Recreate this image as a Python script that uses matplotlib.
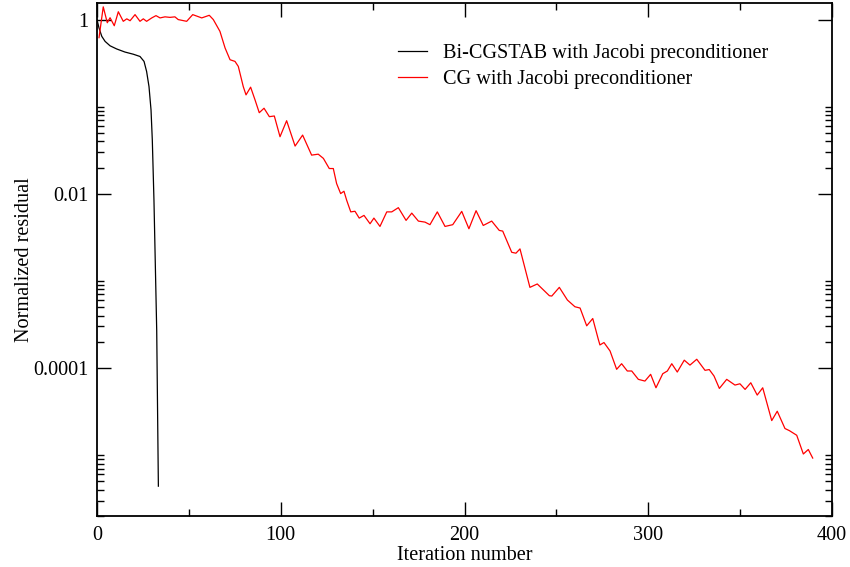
import numpy as np
import matplotlib
matplotlib.use('Agg')
import matplotlib.pyplot as plt
from matplotlib.ticker import LogLocator, MultipleLocator, NullFormatter

# Bi-CGSTAB residual history
bicg_iter = [0, 1.1, 2.6, 4.4, 7.1, 10.7, 15.2, 19.8, 23.4, 25.6, 27.0, 28.3,
             29.4, 30.1, 30.6, 31.0, 32.5, 33.4]
bicg_res = [1.0, 0.80, 0.642, 0.562, 0.50, 0.46, 0.424, 0.40, 0.377, 0.331,
            0.2535, 0.170, 0.0918, 0.0414, 0.0171, 0.0084, 0.000267, 4.4e-6]

# CG residual history
cg_iter = [1.1, 3.4, 5.6, 7.1, 9.4, 11.6, 14.3, 16.2, 18.0, 20.7, 23.4, 25.2,
           27.0, 29.8, 32.1, 34.3, 37.0, 39.7, 42.4, 44.2, 48.8, 52.1, 57.0,
           61.1, 63.3, 66.9, 69.7, 72.4, 75.1, 76.9, 79.6, 81.1, 83.6, 86.0,
           88.3, 90.9, 93.8, 96.5, 99.6, 103.2, 107.8, 111.9, 116.8, 120.4,
           123.2, 126.4, 128.6, 130.4, 132.6, 134.4, 135.9, 138.1, 140.4,
           142.7, 145.3, 148.6, 150.7, 154.0, 157.7, 160.4, 164.0, 168.2,
           171.3, 174.9, 178.5, 181.2, 185.2, 189.4, 193.6, 198.5, 202.4,
           206.3, 210.2, 214.8, 218.9, 220.8, 225.7, 228.0, 230.2, 235.6,
           239.6, 246.2, 247.5, 251.6, 256.0, 260.1, 262.9, 266.5, 269.8,
           272.8, 273.7, 275.9, 279.2, 282.8, 285.5, 288.6, 291.0, 294.6,
           298.2, 301.3, 304.2, 307.9, 310.4, 312.8, 315.8, 319.6, 322.7,
           326.4, 330.9, 333.2, 335.8, 338.7, 342.7, 347.2, 349.9, 352.7,
           355.8, 359.3, 362.3, 367.2, 370.2, 374.4, 376.8, 380.8, 384.4,
           387.1, 389.5]
cg_res = [0.62, 1.40, 0.92, 1.05, 0.85, 1.23, 0.955, 1.02, 0.97, 1.14, 0.955,
          1.02, 0.955, 1.045, 1.11, 1.045, 1.075, 1.06, 1.075, 1.0, 0.955,
          1.14, 1.045, 1.12, 1.0, 0.733, 0.472, 0.346, 0.331, 0.29, 0.170,
          0.1366, 0.1676, 0.1197, 0.0853, 0.096, 0.0768, 0.0782, 0.0452,
          0.069, 0.0353, 0.0472, 0.0278, 0.0285, 0.0255, 0.0195, 0.0195,
          0.0131, 0.01005, 0.0107, 0.0084, 0.0062, 0.0063, 0.00526, 0.00565,
          0.00453, 0.00526, 0.00422, 0.0062, 0.0062, 0.00693, 0.00495, 0.0060,
          0.00486, 0.00473, 0.00442, 0.0062, 0.00422, 0.00442, 0.00628,
          0.00397, 0.0064, 0.00433, 0.00486, 0.0038, 0.00373, 0.00213,
          0.00208, 0.00233, 0.000843, 0.000922, 0.000676, 0.00067, 0.000843,
          0.000603, 0.000505, 0.000488, 0.000305, 0.00037, 0.000214, 0.000184,
          0.000196, 0.000157, 9.66e-5, 0.000112, 9.24e-5, 9.24e-5, 7.41e-5,
          7.08e-5, 8.46e-5, 5.93e-5, 8.6e-5, 9.24e-5, 0.000112, 8.99e-5,
          0.000123, 0.000108, 0.000126, 9.4e-5, 9.6e-5, 8.09e-5, 5.83e-5,
          7.41e-5, 6.37e-5, 6.59e-5, 5.68e-5, 6.77e-5, 4.89e-5, 5.93e-5,
          2.49e-5, 3.19e-5, 2.02e-5, 1.91e-5, 1.69e-5, 1.03e-5, 1.16e-5,
          9.25e-6]

ytick_vals = [1e-4, 1e-2, 1]
ytick_labels = ['0.0001', '0.01', '1']

plt.rcParams['font.family'] = ['Liberation Serif', 'DejaVu Serif']
plt.rcParams['font.size'] = 14.6

fig = plt.figure(figsize=(8.5, 5.67), dpi=100)
ax = fig.add_axes([97/850, 51/567, 735/850, 513/567])

ax.plot(bicg_iter, bicg_res, color='black', lw=0.9,
        label='Bi-CGSTAB with Jacobi preconditioner')
ax.plot(cg_iter, cg_res, color='red', lw=0.9,
        label='CG with Jacobi preconditioner')

ax.set_yscale('log')
ax.set_xlim(0, 400)
ax.set_ylim(2e-6, 1.55)

ax.xaxis.set_major_locator(MultipleLocator(100))
ax.xaxis.set_minor_locator(MultipleLocator(50))
ax.set_yticks(ytick_vals)
ax.set_yticklabels(ytick_labels)
ax.yaxis.set_minor_locator(LogLocator(base=100, subs=np.arange(2, 11)))
ax.yaxis.set_minor_formatter(NullFormatter())

ax.tick_params(which='both', direction='in', top=True, right=True, width=1)
ax.tick_params(which='major', length=10)
ax.tick_params(axis='x', which='major', pad=7)
ax.tick_params(axis='y', which='major', pad=6)
ax.tick_params(which='minor', length=5)
for s in ax.spines.values():
    s.set_linewidth(1.3)

ax.set_xlabel('Iteration number', labelpad=1)
ax.set_ylabel('Normalized residual')
ax.yaxis.set_label_coords(-0.086, 0.5)

ax.legend(loc='upper left', bbox_to_anchor=(398/850, 1 - 44/567),
          bbox_transform=fig.transFigure, frameon=False, borderpad=0,
          borderaxespad=0, handlelength=1.45, handletextpad=0.75,
          labelspacing=0.33)

fig.savefig('out.png', dpi=100)
plt.close('all')
